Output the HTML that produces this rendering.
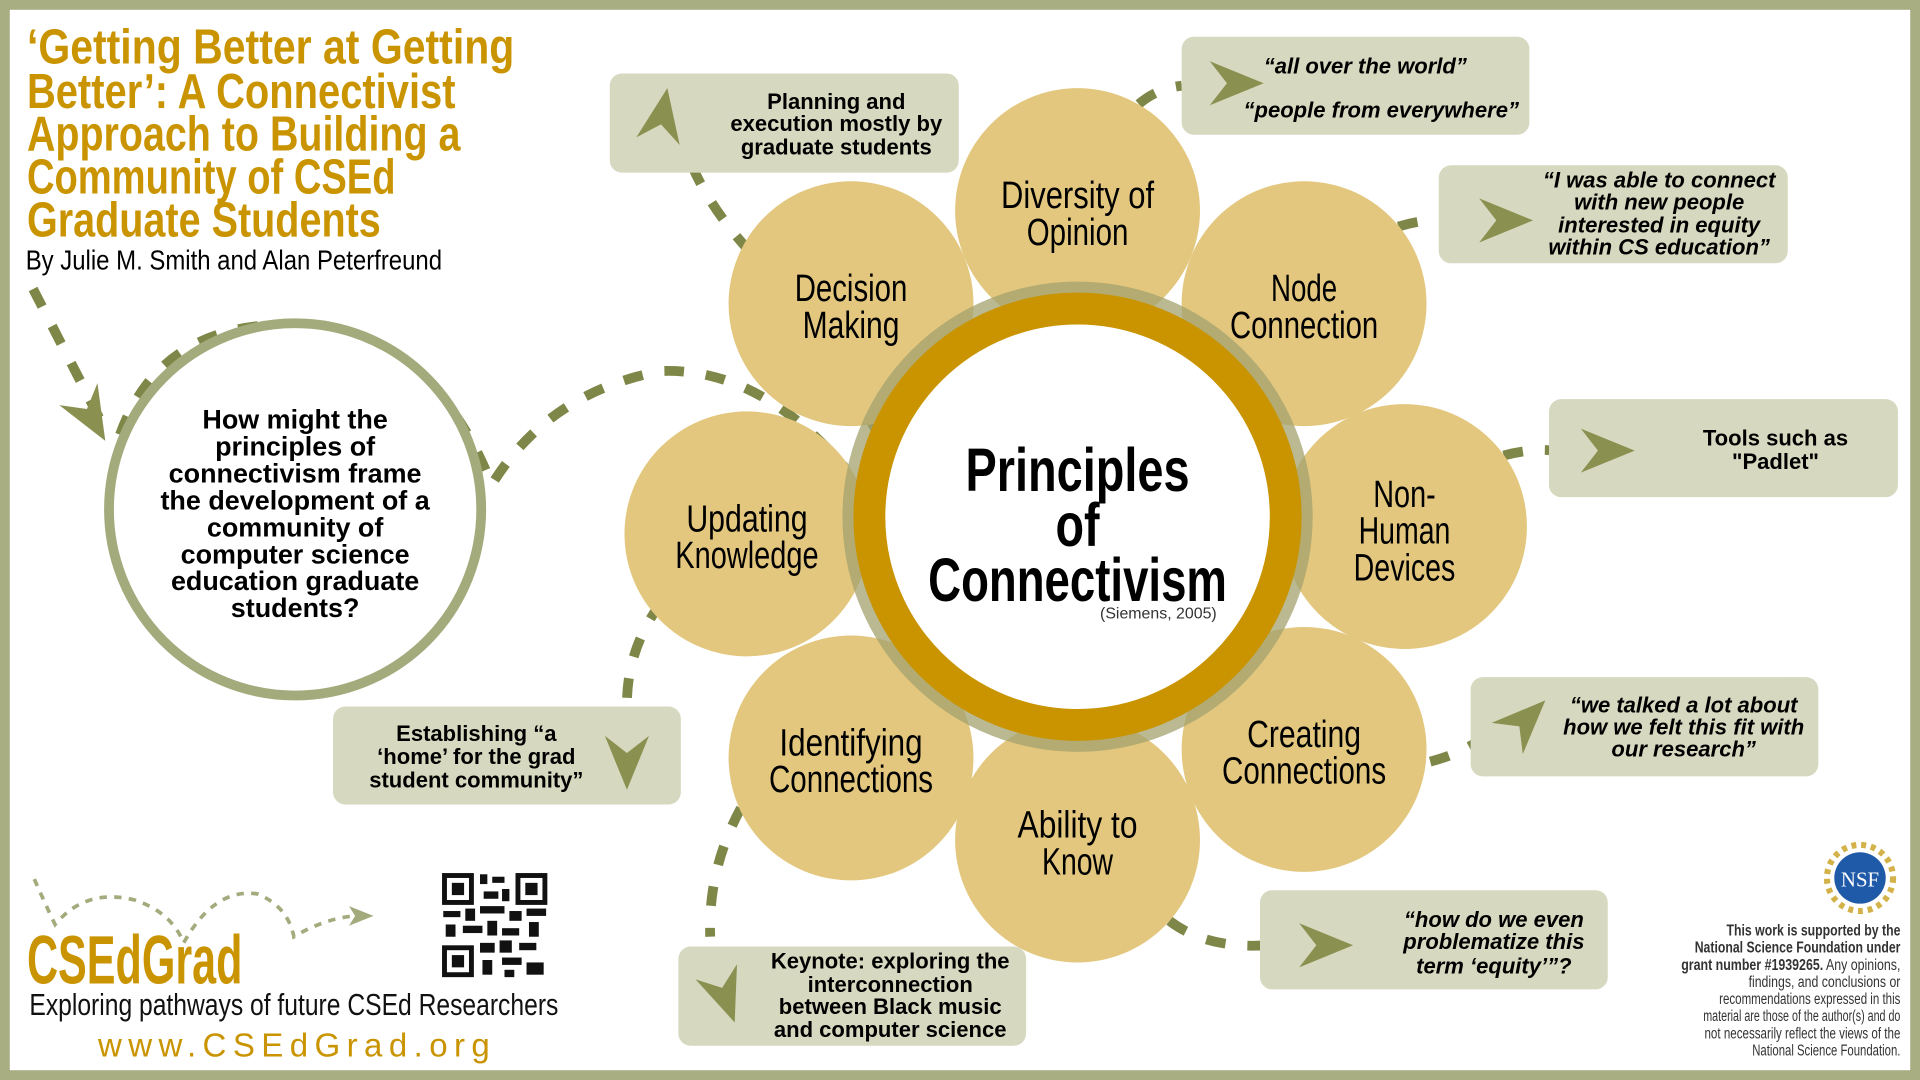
<!DOCTYPE html>
<html><head><meta charset="utf-8"><title>Principles of Connectivism</title>
<style>
html,body{margin:0;padding:0;background:#fff;}
svg{display:block;}
.t{font-family:"Liberation Sans Narrow","Liberation Sans",sans-serif;}
.b{font-family:"Liberation Sans",sans-serif;font-weight:bold;}
</style></head>
<body>
<svg width="1920" height="1080" viewBox="0 0 1568 882" preserveAspectRatio="none">
<defs>
<path id="arw" d="M0,0 L-44,-18 L-30,0 L-44,18 Z" fill="#8a9150"/>
</defs>
<rect x="4" y="4" width="1560" height="874" fill="#fff" stroke="#a9ad82" stroke-width="8"/>

<g class="t" font-weight="bold" fill="#c99400" font-size="40">
<text x="22" y="52" textLength="398" lengthAdjust="spacingAndGlyphs">‘Getting Better at Getting</text>
<text x="22" y="88" textLength="350" lengthAdjust="spacingAndGlyphs">Better’: A Connectivist</text>
<text x="22" y="123" textLength="354" lengthAdjust="spacingAndGlyphs">Approach to Building a</text>
<text x="22" y="158" textLength="301" lengthAdjust="spacingAndGlyphs">Community of CSEd</text>
<text x="22" y="193" textLength="289" lengthAdjust="spacingAndGlyphs">Graduate Students</text>
</g>
<text class="t" x="21" y="220" font-size="23" fill="#000" textLength="340" lengthAdjust="spacingAndGlyphs">By Julie M. Smith and Alan Peterfreund</text>

<g fill="none" stroke="#7f8748" stroke-width="8" stroke-dasharray="16,18" stroke-linecap="butt">
<path d="M27,236 Q60,300 88,355"/>
<path d="M98,355 Q130,265 235,265 Q350,268 400,392"/>
<path d="M404,392 Q450,320 540,303 Q620,300 690,382"/>
<path d="M710,350 Q760,320 830,336"/>
<path d="M612,205 Q580,170 565,135"/>
<path d="M930,85 Q945,72 965,70"/>
<path d="M1142,185 Q1165,178 1185,180"/>
<path d="M1228,372 Q1250,366 1270,368"/>
<path d="M1168,622 Q1195,615 1215,600"/>
<path d="M955,752 Q985,775 1035,772"/>
<path d="M605,660 Q578,710 580,765"/>
<path d="M540,492 Q512,530 512,575"/>
</g>
<g>
<use href="#arw" transform="translate(878,338) rotate(8)"/>
<use href="#arw" transform="translate(86,360) rotate(60)"/>
</g>

<circle cx="241" cy="416" r="152" fill="#fff" stroke="#a3aa7c" stroke-width="8"/>
<g class="b" font-size="22" fill="#000" text-anchor="middle">
<text x="241" y="350">How might the</text>
<text x="241" y="372">principles of</text>
<text x="241" y="394">connectivism frame</text>
<text x="241" y="416">the development of a</text>
<text x="241" y="438">community of</text>
<text x="241" y="460">computer science</text>
<text x="241" y="482">education graduate</text>
<text x="241" y="504">students?</text>
</g>

<g fill="#e3c77e">
<circle cx="880" cy="172" r="100"/>
<circle cx="1065" cy="248" r="100"/>
<circle cx="1147" cy="430" r="100"/>
<circle cx="1065" cy="612" r="100"/>
<circle cx="880" cy="686" r="100"/>
<circle cx="695" cy="619" r="100"/>
<circle cx="610" cy="436" r="100"/>
<circle cx="695" cy="248" r="100"/>
</g>
<g class="t" font-size="31" fill="#000" text-anchor="middle">
<text x="880" y="170" textLength="125" lengthAdjust="spacingAndGlyphs">Diversity of</text><text x="880" y="200" textLength="83" lengthAdjust="spacingAndGlyphs">Opinion</text>
<text x="1065" y="246" textLength="54" lengthAdjust="spacingAndGlyphs">Node</text><text x="1065" y="276" textLength="121" lengthAdjust="spacingAndGlyphs">Connection</text>
<text x="1147" y="414" textLength="51" lengthAdjust="spacingAndGlyphs">Non-</text><text x="1147" y="444" textLength="75" lengthAdjust="spacingAndGlyphs">Human</text><text x="1147" y="474" textLength="83" lengthAdjust="spacingAndGlyphs">Devices</text>
<text x="1065" y="610" textLength="93" lengthAdjust="spacingAndGlyphs">Creating</text><text x="1065" y="640" textLength="134" lengthAdjust="spacingAndGlyphs">Connections</text>
<text x="880" y="684" textLength="98" lengthAdjust="spacingAndGlyphs">Ability to</text><text x="880" y="714" textLength="58" lengthAdjust="spacingAndGlyphs">Know</text>
<text x="695" y="617" textLength="117" lengthAdjust="spacingAndGlyphs">Identifying</text><text x="695" y="647" textLength="134" lengthAdjust="spacingAndGlyphs">Connections</text>
<text x="610" y="434" textLength="99" lengthAdjust="spacingAndGlyphs">Updating</text><text x="610" y="464" textLength="117" lengthAdjust="spacingAndGlyphs">Knowledge</text>
<text x="695" y="246" textLength="92" lengthAdjust="spacingAndGlyphs">Decision</text><text x="695" y="276" textLength="79" lengthAdjust="spacingAndGlyphs">Making</text>
</g>

<circle cx="880" cy="422" r="186" fill="none" stroke="#a3a26e" stroke-opacity="0.75" stroke-width="12"/>
<circle cx="880" cy="422" r="170" fill="#fff" stroke="#c99400" stroke-width="26"/>
<g class="t" font-weight="bold" font-size="50" fill="#000" text-anchor="middle">
<text x="880" y="401" textLength="183" lengthAdjust="spacingAndGlyphs">Principles</text>
<text x="880" y="446" textLength="36" lengthAdjust="spacingAndGlyphs">of</text>
<text x="880" y="491" textLength="244" lengthAdjust="spacingAndGlyphs">Connectivism</text>
</g>
<text x="946" y="505" font-family="Liberation Sans, sans-serif" font-size="13" fill="#333" text-anchor="middle">(Siemens, 2005)</text>

<g fill="#d6d8bf">
<rect x="498" y="60" width="285" height="81" rx="10"/>
<rect x="965" y="30" width="284" height="80" rx="10"/>
<rect x="1175" y="135" width="285" height="80" rx="10"/>
<rect x="1265" y="326" width="285" height="80" rx="10"/>
<rect x="1201" y="553" width="284" height="81" rx="10"/>
<rect x="1029" y="727" width="284" height="81" rx="10"/>
<rect x="554" y="773" width="284" height="81" rx="10"/>
<rect x="272" y="577" width="284" height="80" rx="10"/>
</g>
<g>
<use href="#arw" transform="translate(545,72) rotate(-80)"/>
<use href="#arw" transform="translate(1032,68)"/>
<use href="#arw" transform="translate(1252,180)"/>
<use href="#arw" transform="translate(1335,368)"/>
<use href="#arw" transform="translate(1262,572) rotate(-45)"/>
<use href="#arw" transform="translate(1105,772)"/>
<use href="#arw" transform="translate(600,835) rotate(70)"/>
<use href="#arw" transform="translate(512,645) rotate(90)"/>
</g>
<g class="b" font-size="18" fill="#000" text-anchor="middle">
<text x="683" y="89">Planning and</text><text x="683" y="107">execution mostly by</text><text x="683" y="126">graduate students</text>
<text x="1450" y="364">Tools such as</text><text x="1450" y="383">"Padlet"</text>
<text x="727" y="791">Keynote: exploring the</text><text x="727" y="810">interconnection</text><text x="727" y="828">between Black music</text><text x="727" y="847">and computer science</text>
<text x="389" y="605">Establishing “a</text><text x="389" y="624">‘home’ for the grad</text><text x="389" y="643">student community”</text>
</g>
<g class="b" font-size="18" font-style="italic" fill="#000" text-anchor="middle">
<text x="1115" y="60">“all over the world”</text><text x="1128" y="96">“people from everywhere”</text>
<text x="1355" y="153">“I was able to connect</text><text x="1355" y="171">with new people</text><text x="1355" y="190">interested in equity</text><text x="1355" y="208">within CS education”</text>
<text x="1375" y="582">“we talked a lot about</text><text x="1375" y="600">how we felt this fit with</text><text x="1375" y="618">our research”</text>
<text x="1220" y="757">“how do we even</text><text x="1220" y="775">problematize this</text><text x="1220" y="795">term ‘equity’”?</text>
</g>

<g>
<path d="M28,718 Q40,745 45,755 Q70,725 110,735 Q140,745 150,770 Q175,725 210,730 Q235,740 240,765 Q265,750 290,748" fill="none" stroke="#a3aa7c" stroke-width="3" stroke-dasharray="6,6"/>
<path d="M305,748 L285,740 L290,748 L285,756 Z" fill="#a3aa7c"/>
<text class="t" x="22" y="803" font-size="56" font-weight="bold" fill="#c99400" textLength="176" lengthAdjust="spacingAndGlyphs">CSEdGrad</text>
<text class="t" x="24" y="829" font-size="25" fill="#111" textLength="432" lengthAdjust="spacingAndGlyphs">Exploring pathways of future CSEd Researchers</text>
<text class="t" x="80" y="863" font-size="27" fill="#c99400" textLength="320" lengthAdjust="spacing">www.CSEdGrad.org</text>
</g>
<g fill="#111">
<rect x="361" y="713" width="26" height="26"/><rect x="365" y="717" width="18" height="18" fill="#fff"/><rect x="369" y="721" width="10" height="10"/>
<rect x="421" y="713" width="26" height="26"/><rect x="425" y="717" width="18" height="18" fill="#fff"/><rect x="429" y="721" width="10" height="10"/>
<rect x="361" y="772" width="26" height="26"/><rect x="365" y="776" width="18" height="18" fill="#fff"/><rect x="369" y="780" width="10" height="10"/>
<rect x="392" y="714" width="6" height="8"/><rect x="402" y="716" width="10" height="5"/><rect x="395" y="728" width="12" height="6"/><rect x="410" y="726" width="6" height="10"/>
<rect x="362" y="744" width="14" height="5"/><rect x="380" y="742" width="8" height="10"/><rect x="392" y="740" width="20" height="6"/><rect x="416" y="744" width="10" height="8"/><rect x="430" y="742" width="16" height="6"/>
<rect x="364" y="755" width="8" height="10"/><rect x="378" y="756" width="16" height="6"/><rect x="398" y="752" width="8" height="12"/><rect x="410" y="758" width="14" height="6"/><rect x="432" y="753" width="8" height="12"/>
<rect x="392" y="770" width="12" height="8"/><rect x="408" y="768" width="10" height="10"/><rect x="424" y="770" width="14" height="6"/><rect x="394" y="784" width="8" height="12"/><rect x="410" y="782" width="16" height="6"/><rect x="430" y="786" width="14" height="10"/><rect x="412" y="792" width="8" height="6"/>
</g>

<g>
<circle cx="1519" cy="717" r="27" fill="none" stroke="#d4b24a" stroke-width="5" stroke-dasharray="4,4"/>
<circle cx="1519" cy="717" r="21" fill="#1f5aa8"/>
<text x="1519" y="724" text-anchor="middle" font-family="Liberation Serif, serif" font-size="17" fill="#fff">NSF</text>
</g>
<g class="t" font-size="12.5" fill="#333" text-anchor="end">
<text x="1552" y="764" font-weight="bold" textLength="142" lengthAdjust="spacingAndGlyphs">This work is supported by the</text>
<text x="1552" y="778" font-weight="bold" textLength="168" lengthAdjust="spacingAndGlyphs">National Science Foundation under</text>
<text x="1552" y="792" textLength="179" lengthAdjust="spacingAndGlyphs"><tspan font-weight="bold">grant number #1939265.</tspan> Any opinions,</text>
<text x="1552" y="806" textLength="124" lengthAdjust="spacingAndGlyphs">findings, and conclusions or</text>
<text x="1552" y="820" textLength="148" lengthAdjust="spacingAndGlyphs">recommendations expressed in this</text>
<text x="1552" y="834" textLength="161" lengthAdjust="spacingAndGlyphs">material are those of the author(s) and do</text>
<text x="1552" y="848" textLength="160" lengthAdjust="spacingAndGlyphs">not necessarily reflect the views of the</text>
<text x="1552" y="862" textLength="121" lengthAdjust="spacingAndGlyphs">National Science Foundation.</text>
</g>
</svg>
</body></html>
